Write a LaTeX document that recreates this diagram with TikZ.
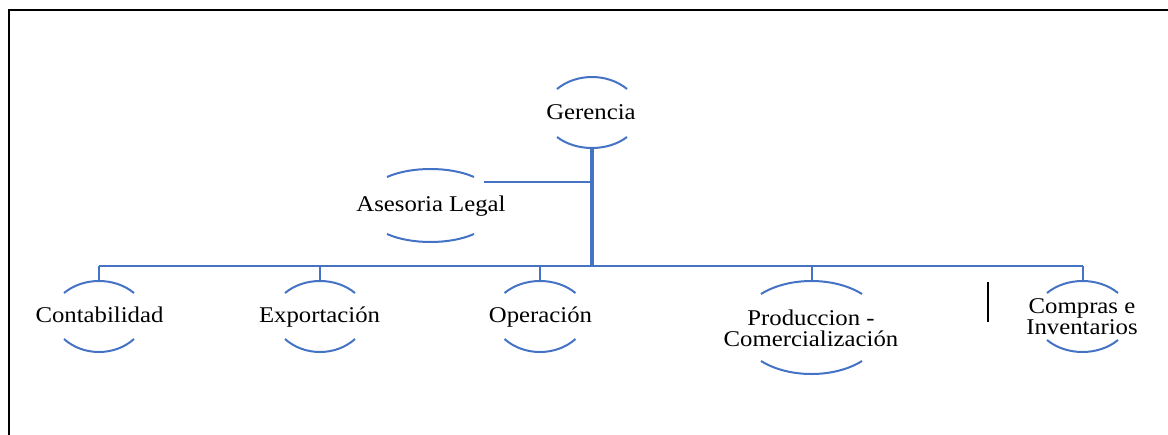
\documentclass[tikz,border=0pt]{standalone}
\usepackage{fontspec}
\setmainfont{Liberation Serif}[FakeStretch=1.1]
\usetikzlibrary{calc}
\definecolor{orgblue}{RGB}{68,114,196}
\tikzset{
  arcline/.style={draw=orgblue,line width=2pt},
  conn/.style={draw=orgblue,line width=2pt},
  trunk/.style={draw=orgblue,line width=3.2pt},
  lbl/.style={inner sep=0pt,font=\fontsize{22.5}{21}\selectfont},
  frame/.style={draw=black,line width=2pt},
}
% name, x, y of top arc ends, y of bottom arc ends, half width, top sag, bottom sag
\newcommand\orgarcs[7]{%
  \coordinate (#1-t) at (#2,#3-#6);
  \coordinate (#1-b) at (#2,#4+#7);
  \draw[arcline] (#2-#5,#3) .. controls (#2-0.45*#5,#3-4*#6/3) and (#2+0.45*#5,#3-4*#6/3) .. (#2+#5,#3);
  \draw[arcline] (#2-#5,#4) .. controls (#2-0.45*#5,#4+4*#7/3) and (#2+0.45*#5,#4+4*#7/3) .. (#2+#5,#4);
}
\begin{document}
\begin{tikzpicture}[x=1pt,y=-1pt]
\useasboundingbox (0,0) rectangle (1168,434);
% frame
\draw[frame] (8.5,440) -- (8.5,10.3) -- (1175,10.3);

% labels
\node[lbl,anchor=base] (ger) at (591,119) {Gerencia};
\node[lbl,anchor=base] (ase) at (431,211) {Asesoria Legal};
\node[lbl,anchor=base] (con) at (99.5,322) {Contabilidad};
\node[lbl,anchor=base] (exp) at (319.5,322) {Exportación};
\node[lbl,anchor=base] (ope) at (540.5,322) {Operación};
\node[lbl,align=center] (pro) at (811,328) {Produccion -\\Comercialización};
\node[lbl,align=center] (com) at (1082,317) {Compras e\\Inventarios};

% arcs
\orgarcs{gerA}{592}{89}{137}{35}{12}{11}
\orgarcs{aseA}{430.5}{177}{234}{43.5}{8}{8}
\orgarcs{conA}{99}{293}{339}{35}{12}{13}
\orgarcs{expA}{320}{293}{339}{35}{12}{13}
\orgarcs{opeA}{540}{293}{339}{35.5}{12}{13}
\orgarcs{proA}{811.5}{294}{361}{50.5}{13}{13}
\orgarcs{comA}{1082.5}{293}{340}{35.5}{12}{12}

% connectors
\coordinate (bus) at (592,265.5);
\coordinate (aseR) at (484,182);
\draw[trunk] (gerA-b) -- (gerA-b |- bus);
\draw[conn] (aseR) -- (aseR -| gerA-b);
\draw[conn] (conA-t |- bus) -- (comA-t |- bus);
\foreach \n in {conA,expA,opeA,proA,comA}
  \draw[conn] (\n-t |- bus) -- (\n-t);

% separator
\coordinate (sepT) at (988,282);
\coordinate (sepB) at (988,322);
\draw[black,line width=2pt] (sepT) -- (sepB);
\end{tikzpicture}
\end{document}
